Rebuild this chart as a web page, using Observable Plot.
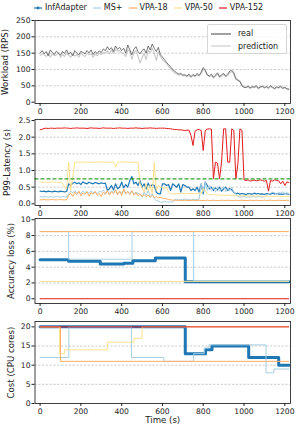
<!DOCTYPE html>
<html><head><meta charset="utf-8">
<script src="https://cdn.jsdelivr.net/npm/d3@7"></script>
<script src="https://cdn.jsdelivr.net/npm/@observablehq/plot@0.6"></script>
<style>
body{margin:0;background:#fff;}
#fig{position:relative;width:297px;height:428px;font-family:"DejaVu Sans",sans-serif;overflow:hidden;background:#fff;}
#fig svg.plot{position:absolute;left:0;}
.legend{position:absolute;top:2px;left:0;width:297px;height:11px;display:flex;justify-content:center;align-items:center;font-size:8px;gap:6px;color:#222;}
.legend .item{display:flex;align-items:center;gap:3px;white-space:nowrap;}
.inner{position:absolute;left:207px;top:24px;width:78px;height:28px;border:1px solid #d6d6d6;border-radius:2px;background:rgba(255,255,255,0.85);font-size:8px;color:#222;}
.inner .row{position:absolute;left:3px;display:flex;align-items:center;gap:7px;white-space:nowrap;height:10px;}
</style></head><body><div id="fig"></div><script>
// ---------- data ----------
const seriesNames = ["InfAdapter", "MS+", "VPA-18", "VPA-50", "VPA-152"];
const seriesColors = ["#1f78b4", "#a6cee3", "#fdae61", "#fee08b", "#e31a1c"];
const xTicks = [0, 200, 400, 600, 800, 1000, 1200];
const sampleStep = 10; // seconds between samples (t = 0 … 1220)

const workloadReal = [
  150,158,148,155,142,160,152,146,156,150,144,
  155,149,160,147,153,142,158,150,145,156,
  152,148,158,151,160,146,155,149,157,152,
  163,158,170,160,167,155,172,162,168,158,
  165,150,175,160,145,162,170,155,148,158,
  163,150,172,160,178,165,155,168,145,138,
  130,122,115,108,100,95,90,86,88,83,
  84,80,86,78,85,80,88,82,92,106,
  98,84,80,86,76,83,90,78,84,88,
  80,86,95,98,90,72,68,64,50,46,
  45,50,44,48,46,51,43,47,49,45,
  48,44,50,46,42,47,45,49,43,46,41,40];
const workloadPred = [
  142,148,145,140,150,138,148,142,145,152,138,
  146,140,150,144,137,148,141,146,138,150,
  144,140,150,145,148,138,147,142,150,146,
  152,150,158,148,160,150,162,156,158,150,
  150,140,160,155,132,150,158,140,120,135,
  150,130,158,152,165,150,128,155,140,130,
  125,118,110,102,96,90,86,82,86,80,
  82,78,82,76,82,78,84,80,88,100,
  95,82,78,82,74,80,86,76,80,85,
  78,82,90,94,86,70,66,62,52,46,
  44,47,42,46,44,48,41,45,47,43,
  46,42,48,44,40,45,43,47,41,44,40,38];

const latInfAdapter = [
  0.38,0.37,0.38,0.36,0.38,0.37,0.36,0.38,0.37,0.36,0.38,0.37,0.36,0.37,
  0.60,0.55,0.62,0.65,0.60,0.63,0.58,0.66,0.62,0.60,0.65,0.62,0.60,0.64,0.62,0.60,0.63,0.61,0.62,
  0.40,0.45,0.55,0.42,0.60,0.45,0.50,0.65,0.48,0.58,0.50,0.70,
  0.82,0.60,
  0.65,0.55,0.70,0.50,0.60,0.45,0.62,0.50,0.58,0.55,
  0.35,0.30,0.30,0.60,
  0.60,0.55,0.58,0.40,0.60,0.55,0.50,0.60,0.35,0.58,0.55,0.50,
  0.50,0.40,0.45,0.40,0.50,0.35,0.60,0.30,0.65,0.55,
  0.45,0.50,0.40,0.48,0.42,0.50,0.38,0.45,0.50,0.40,0.46,0.42,0.35,
  0.30,0.32,0.29,0.31,0.30,0.28,0.31,0.30,0.29,0.32,0.30,0.31,0.29,0.30,0.28,0.31,0.30,0.29,0.32,0.30,0.31,0.29,0.30,0.28,0.31,0.30,0.29];
const latMSplus = [
  0.22,0.20,0.22,0.21,0.20,0.22,0.21,0.20,0.22,0.21,0.20,0.22,0.21,0.20,
  0.30,0.38,0.33,0.40,0.32,0.36,0.30,0.39,0.34,0.37,
  0.31,0.40,0.33,0.36,0.30,0.38,0.35,0.41,0.32,0.37,
  0.30,0.39,0.34,0.42,0.31,0.36,0.33,0.40,0.30,0.37,
  0.32,0.38,0.30,0.35,0.31,
  0.30,0.20,0.35,0.25,0.40,0.20,0.30,0.15,0.10,0.08,
  0.05,0.05,0.08,0.06,0.05,0.06,0.05,
  0.12,0.14,0.11,0.13,0.12,0.15,0.12,0.13,0.11,0.14,0.12,0.13,0.15,
  0.60,0.35,0.65,0.40,0.55,
  0.40,0.48,0.35,0.50,0.38,0.45,0.52,0.36,0.47,0.40,0.50,0.35,0.30,
  0.22,0.20,0.21,0.22,0.20,0.21,0.20,0.22,0.21,0.20,0.22,0.21,0.20,0.21,0.25,0.30,
  0.32,0.35,0.33,0.30,0.34,0.32,0.35,0.31,0.33,0.30];
const latVPA18 = [
  0.12,0.12,0.13,0.12,0.12,0.12,0.13,0.12,0.12,0.12,0.13,0.12,0.12,0.12,
  0.25,0.32,0.22,0.35,0.27,0.38,0.24,0.33,0.28,0.36,
  0.23,0.34,0.29,0.37,0.25,0.31,0.22,0.35,0.28,0.40,
  0.26,0.36,0.30,0.42,0.27,0.38,0.25,0.44,0.30,0.36,
  0.28,0.40,0.26,0.33,0.24,0.30,0.22,0.28,0.21,0.26,
  0.20,0.25,0.19,0.22,0.18,0.20,0.17,
  0.16,0.15,0.13,0.12,0.11,0.11,
  0.10,0.11,0.10,0.10,0.11,0.10,0.10,0.10,0.11,0.10,
  0.10,0.11,0.10,0.10,0.10,0.11,0.10,0.10,0.11,0.10,
  0.10,0.10,0.11,0.10,0.10,0.11,0.10,0.10,0.10,0.11,
  0.10,0.10,0.11,0.10,0.10,0.10,0.11,0.10,0.10,0.11,
  0.10,0.10,0.10,0.11,0.10,0.10,0.11,0.10,0.10,0.10,
  0.11,0.10,0.10,0.10,0.11,0.10];
const latVPA50 = [
  0.66,0.65,0.65,0.66,0.64,0.65,0.66,0.65,0.65,0.64,0.65,
  0.62,0.50,0.45,1.25,0.40,0.80,1.25,
  1.25,1.25,1.26,1.25,1.25,1.25,1.24,1.25,1.25,1.25,1.26,1.25,1.25,1.25,1.25,1.24,1.25,1.25,1.25,
  1.10,1.25,
  1.25,1.25,1.25,1.26,1.25,1.25,1.25,1.24,1.25,
  1.25,
  0.60,0.50,0.35,0.60,0.40,0.55,0.30,1.25,0.40,0.55,0.50,0.50,
  0.45,0.50,0.35,0.30,0.30,
  0.30,0.31,0.30,0.32,0.31,0.30,0.31,0.32,0.30,0.31,
  0.30,0.31,0.32,0.30,0.45,0.40,0.30,0.28,0.27,0.28,
  0.27,0.26,0.27,0.26,0.25,0.26,0.25,0.25,0.26,0.25,
  0.25,0.24,0.25,0.24,0.24,0.25,0.24,0.23,0.24,0.23,
  0.23,0.24,0.23,0.23,0.22,0.23,0.22,0.23,0.22,0.22,
  0.22,0.23,0.22,0.22,0.22,0.22,0.22];
const latVPA152 = [
  2.22,2.24,2.26,2.27,2.26,2.27,2.27,2.26,2.27,2.27,2.27,
  2.27,2.28,2.27,2.27,2.26,2.27,2.27,2.28,2.27,2.27,
  2.27,2.27,2.26,2.27,2.28,2.27,2.27,2.27,2.26,2.27,
  2.28,2.27,2.27,2.27,2.27,2.26,2.27,2.27,2.28,2.27,
  2.27,2.27,2.26,2.27,2.27,2.27,2.28,2.27,2.27,2.26,
  2.27,2.27,2.27,2.28,2.27,2.27,2.26,2.27,2.27,2.27,
  2.27,2.26,2.26,2.25,2.24,2.23,2.23,2.22,2.22,2.21,
  2.20,2.21,2.21,2.05,1.75,2.18,2.22,2.23,2.20,1.60,
  2.20,2.24,2.25,2.24,0.75,1.25,1.22,0.75,1.25,2.25,
  2.25,1.25,1.25,2.25,2.20,0.75,1.20,2.25,2.20,0.72,
  0.70,0.72,0.68,0.70,0.71,0.69,0.70,0.72,0.70,0.68,0.70,0.38,
  0.70,0.68,0.72,0.70,0.69,0.60,0.68,0.55,0.66,0.64];
const latencySLO = 0.75;

// accuracy loss (%) — step changes: times and values
const accInfAdapterT = [0, 140, 295, 410, 455, 565, 712, 1220];
const accInfAdapterV = [4.95, 4.75, 4.4, 4.5, 4.8, 5.15, 2.15, 2.15];
const accMSplusT = [0, 140, 451, 753, 1220];
const accMSplusV = [8.5, 5.0, 8.5, 2.3, 2.3];
const accVPA18T = [0, 1220];  const accVPA18V = [8.5, 8.5];
const accVPA50T = [0, 1220];  const accVPA50V = [2.2, 2.2];
const accVPA152T = [0, 1220]; const accVPA152V = [0, 0];

// cost (CPU cores) — step changes
const costInfAdapterT = [0, 712, 811, 843, 1023, 1170, 1220];
const costInfAdapterV = [20, 13, 14, 15, 12, 10, 10];
const costMSplusT = [0, 141, 448, 607, 753, 805, 828, 1108, 1146, 1220];
const costMSplusV = [12, 20, 12, 11, 13, 14.5, 15.3, 8, 9, 9];
const costVPA18T = [0, 100, 1220];  const costVPA18V = [20, 11, 11];
const costVPA50T = [0, 95, 120, 330, 460, 500, 1220];
const costVPA50V = [20, 13, 14, 16, 17, 20, 20];
const costVPA152T = [0, 1220]; const costVPA152V = [20, 20];

// ---------- helpers ----------
const tAt = i => i * sampleStep;
const steps = (T, V) => T.map((t, i) => ({t, v: V[i]}));
const fig = document.getElementById("fig");

function panel({top, height, mt, mb, yDomain, yTicks, yGrid, yFmt, label, labelX, marks, extra = []}) {
  const svg = Plot.plot({
    width: 297, height,
    marginLeft: 34.5, marginRight: 7, marginTop: mt, marginBottom: mb,
    style: {fontFamily: "DejaVu Sans", fontSize: "7.6px", background: "transparent", color: "#222", overflow: "visible"},
    x: {domain: [-25, 1228], ticks: xTicks, tickSize: 3, tickPadding: 2, label: null, tickFormat: d => String(d)},
    y: {domain: yDomain, ticks: yTicks, tickSize: 3, tickPadding: 1.5, label: null, tickFormat: yFmt},
    marks: [
      Plot.ruleY(yGrid, {stroke: "#b4b4b4", strokeWidth: 0.7, strokeDasharray: "2.2,1.6"}),
      ...marks,
      Plot.frame({stroke: "#111", strokeWidth: 0.8}),
      Plot.text([label], {frameAnchor: "left", text: d => d, dx: labelX - 34.5, rotate: -90, textAnchor: "middle", lineAnchor: "middle", fontSize: 8.6, fill: "#222"}),
      ...extra
    ]
  });
  svg.classList.add("plot");
  svg.style.top = top + "px";
  fig.appendChild(svg);
}

// Panel 1: workload
panel({
  top: 0, height: 117, mt: 20, mb: 14,
  yDomain: [-4, 250], yTicks: [0, 50, 100, 150, 200, 250], yGrid: [50, 100, 150, 200],
  yFmt: d => String(d), label: "Workload (RPS)", labelX: 4.8,
  marks: [
    Plot.line(workloadPred, {x: (d, i) => tAt(i), y: d => d, stroke: "#c8c8c8", strokeWidth: 1.1}),
    Plot.line(workloadReal, {x: (d, i) => tAt(i), y: d => d, stroke: "#555", strokeWidth: 0.8})
  ]
});

// Panel 2: latency
const latSeries = [latInfAdapter, latMSplus, latVPA18, latVPA50, latVPA152];
panel({
  top: 105, height: 114, mt: 14, mb: 14,
  yDomain: [-0.05, 2.53], yTicks: [0, 0.5, 1, 1.5, 2, 2.5], yGrid: [0.5, 1, 1.5, 2],
  yFmt: d3.format(".1f"), label: "P99-Latency (s)", labelX: 6.5,
  marks: [
    ...latSeries.map((s, k) => Plot.line(s, {x: (d, i) => tAt(i), y: d => d, stroke: seriesColors[k], strokeWidth: k === 0 ? 1.2 : 1})),
    Plot.ruleY([latencySLO], {stroke: "#33a02c", strokeWidth: 1.2, strokeDasharray: "4,2"})
  ]
});

// Panel 3: accuracy loss
const accSeries = [steps(accInfAdapterT, accInfAdapterV), steps(accMSplusT, accMSplusV), steps(accVPA18T, accVPA18V), steps(accVPA50T, accVPA50V), steps(accVPA152T, accVPA152V)];
panel({
  top: 205, height: 112, mt: 13, mb: 14,
  yDomain: [-0.6, 10.16], yTicks: [0, 2, 4, 6, 8, 10], yGrid: [2, 4, 6, 8],
  yFmt: d => String(d), label: "Accuracy loss (%)", labelX: 11,
  marks: [
    Plot.line(accSeries[0], {x: "t", y: "v", curve: "step-after", stroke: seriesColors[0], strokeWidth: 3}),
    ...accSeries.slice(1).map((s, k) => Plot.line(s, {x: "t", y: "v", curve: "step-after", stroke: seriesColors[k + 1], strokeWidth: 1}))
  ]
});

// Panel 4: cost
const costSeries = [steps(costInfAdapterT, costInfAdapterV), steps(costMSplusT, costMSplusV), steps(costVPA18T, costVPA18V), steps(costVPA50T, costVPA50V), steps(costVPA152T, costVPA152V)];
panel({
  top: 308, height: 120, mt: 13, mb: 25,
  yDomain: [0, 21.4], yTicks: [0, 5, 10, 15, 20], yGrid: [5, 10, 15],
  yFmt: d => String(d), label: "Cost (CPU cores)", labelX: 11,
  marks: [
    Plot.line(costSeries[0], {x: "t", y: "v", curve: "step-after", stroke: seriesColors[0], strokeWidth: 3}),
    ...costSeries.slice(1).map((s, k) => Plot.line(s, {x: "t", y: "v", curve: "step-after", stroke: seriesColors[k + 1], strokeWidth: 1}))
  ],
  extra: [Plot.text(["Time (s)"], {frameAnchor: "bottom", text: d => d, dy: 19.7, fontSize: 8.6, fill: "#222"})]
});

// top legend
const leg = document.createElement("div");
leg.className = "legend";
seriesNames.forEach((name, k) => {
  const it = document.createElement("div");
  it.className = "item";
  const dot = k === 0 ? `<circle cx="4" cy="3" r="1.4" fill="${seriesColors[k]}"/>` : "";
  it.innerHTML = `<svg width="8" height="6"><line x1="0" y1="3" x2="8" y2="3" stroke="${seriesColors[k]}" stroke-width="1.2"/>${dot}</svg><span>${name}</span>`;
  leg.appendChild(it);
});
fig.appendChild(leg);

// inner legend for workload panel
const inner = document.createElement("div");
inner.className = "inner";
[["real", "#555"], ["prediction", "#c8c8c8"]].forEach(([name, col], k) => {
  const r = document.createElement("div");
  r.className = "row";
  r.style.top = (k === 0 ? 3.5 : 16) + "px";
  r.innerHTML = `<svg width="20" height="6"><line x1="0" y1="3" x2="20" y2="3" stroke="${col}" stroke-width="1.1"/></svg><span>${name}</span>`;
  inner.appendChild(r);
});
fig.appendChild(inner);
</script></body></html>
